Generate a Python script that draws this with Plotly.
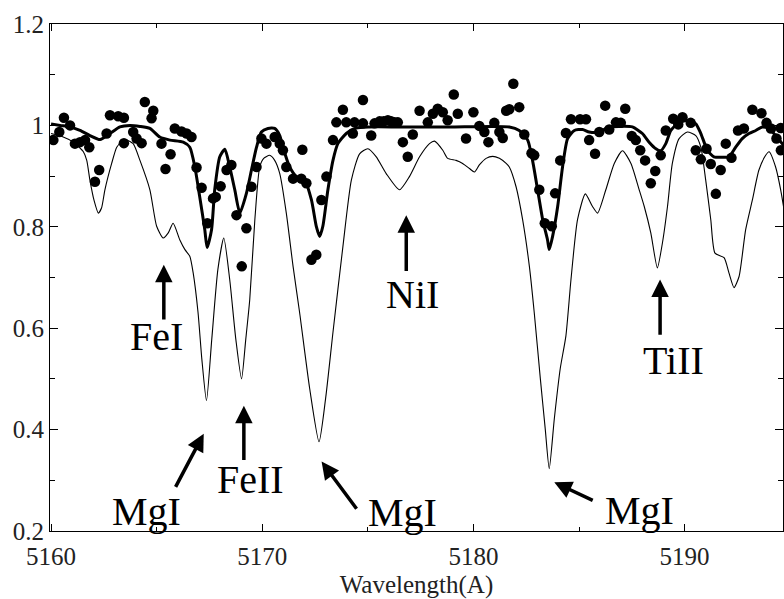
import plotly.graph_objects as go

# Observed spectrum (normalised flux)
obs_wave = [
    5160.11, 5160.39, 5160.61, 5160.90, 5161.13, 5161.37, 5161.61, 5161.81, 5162.08, 5162.28,
    5162.63, 5162.79, 5163.18, 5163.45, 5163.45, 5163.89, 5164.05, 5164.29, 5164.44, 5164.76,
    5164.84, 5165.23, 5165.42, 5165.66, 5165.86, 5166.18, 5166.42, 5166.65, 5166.89, 5167.13,
    5167.40, 5167.67, 5167.80, 5168.03, 5168.31, 5168.54, 5168.78, 5169.03, 5169.25, 5169.49,
    5169.73, 5169.96, 5170.20, 5170.59, 5170.83, 5170.98, 5171.14, 5171.46, 5171.85, 5171.90,
    5172.09, 5172.33, 5172.56, 5172.80, 5173.04, 5173.35, 5173.51, 5173.82, 5173.98, 5174.29,
    5174.37, 5174.77, 5174.77, 5175.16, 5175.32, 5175.56, 5175.75, 5175.95, 5176.10, 5176.26,
    5176.42, 5176.66, 5176.89, 5177.13, 5177.45, 5177.84, 5178.08, 5178.31, 5178.55, 5178.78,
    5179.07, 5179.26, 5179.65, 5180.00, 5180.28, 5180.52, 5180.71, 5180.99, 5181.23, 5181.39,
    5181.55, 5181.70, 5181.89, 5182.17, 5182.41, 5182.75, 5182.88, 5183.12, 5183.38, 5183.71,
    5183.87, 5184.11, 5184.38, 5184.62, 5185.05, 5185.33, 5185.48, 5185.76, 5185.96, 5186.24,
    5186.43, 5186.75, 5186.98, 5187.19, 5187.50, 5187.69, 5187.90, 5188.13, 5188.40, 5188.61,
    5188.87, 5189.11, 5189.46, 5189.70, 5189.90, 5190.29, 5190.53, 5190.77, 5191.04, 5191.24,
    5191.48, 5191.71, 5191.95, 5192.22, 5192.53, 5192.81, 5193.21, 5193.64, 5193.88, 5194.09,
    5194.35, 5194.55, 5194.56,
]
obs_flux = [
    0.971, 0.987, 1.015, 1.000, 0.964, 0.967, 0.971, 0.957, 0.889, 0.912,
    0.984, 1.020, 1.018, 1.015, 0.965, 0.987, 0.974, 0.965, 1.046, 1.014,
    1.029, 0.964, 0.914, 0.943, 0.994, 0.988, 0.984, 0.977, 0.917, 0.877,
    0.807, 0.856, 0.859, 0.880, 0.912, 0.922, 0.823, 0.722, 0.797, 0.879,
    0.918, 0.974, 0.964, 0.977, 0.964, 0.951, 0.918, 0.895, 0.895, 0.952,
    0.886, 0.735, 0.745, 0.853, 0.899, 0.971, 1.006, 1.031, 1.006, 0.984,
    1.006, 1.050, 1.004, 0.980, 1.004, 1.008, 1.008, 1.010, 1.008, 1.006,
    1.006, 0.967, 0.938, 0.982, 1.029, 1.006, 1.023, 1.033, 1.026, 1.010,
    1.061, 1.023, 0.974, 1.026, 0.999, 0.987, 0.967, 1.005, 0.987, 0.975,
    1.029, 1.032, 1.082, 1.036, 0.982, 0.945, 0.941, 0.873, 0.807, 0.801,
    0.866, 0.931, 0.985, 1.012, 1.012, 1.012, 0.971, 0.944, 0.987, 1.039,
    0.992, 1.006, 1.005, 1.033, 0.979, 0.971, 0.951, 0.931, 0.886, 0.910,
    0.941, 0.990, 1.013, 1.002, 1.016, 1.005, 0.951, 0.933, 0.954, 0.924,
    0.865, 0.912, 0.964, 0.936, 0.990, 0.994, 1.031, 1.024, 1.005, 0.994,
    0.974, 0.995, 0.951,
]

# Best-fit synthetic spectrum (thick curve)
fit_wave = [
    5160.00, 5160.43, 5160.90, 5161.37, 5161.84, 5162.32, 5162.79, 5163.26, 5163.74, 5164.21,
    5164.68, 5165.15, 5165.63, 5166.26, 5166.57, 5166.81, 5167.04, 5167.28, 5167.39, 5167.60,
    5167.75, 5167.99, 5168.23, 5168.46, 5168.70, 5168.94, 5169.25, 5169.49, 5169.73, 5169.96,
    5170.27, 5170.59, 5170.83, 5170.98, 5171.30, 5171.62, 5172.01, 5172.33, 5172.56, 5172.72,
    5172.87, 5173.11, 5173.35, 5173.58, 5173.98, 5174.45, 5175.08, 5176.50, 5178.87, 5181.70,
    5182.17, 5182.57, 5182.80, 5183.04, 5183.28, 5183.51, 5183.59, 5183.75, 5183.99, 5184.22,
    5184.46, 5184.78, 5185.17, 5185.48, 5185.96, 5186.43, 5186.90, 5187.53, 5188.00, 5188.32,
    5188.64, 5188.87, 5189.11, 5189.35, 5189.74, 5190.13, 5190.53, 5190.77, 5191.08, 5191.39,
    5191.79, 5192.10, 5192.42, 5192.73, 5193.05, 5193.37, 5193.68, 5194.00, 5194.31, 5194.62,
    5194.85,
]
fit_flux = [
    1.003, 1.000, 0.997, 0.990, 0.980, 0.972, 0.984, 0.997, 1.000, 0.998,
    0.994, 0.977, 0.971, 0.967, 0.957, 0.918, 0.859, 0.794, 0.759, 0.794,
    0.873, 0.938, 0.953, 0.918, 0.873, 0.827, 0.866, 0.912, 0.957, 0.987,
    0.994, 0.994, 0.980, 0.957, 0.918, 0.899, 0.892, 0.853, 0.801, 0.781,
    0.801, 0.873, 0.931, 0.964, 0.984, 0.995, 0.997, 0.997, 0.997, 0.997,
    0.990, 0.971, 0.931, 0.873, 0.814, 0.774, 0.755, 0.781, 0.840, 0.918,
    0.974, 0.990, 0.992, 0.987, 0.987, 0.997, 0.998, 0.997, 0.984, 0.967,
    0.954, 0.950, 0.964, 0.990, 1.006, 1.010, 1.003, 0.984, 0.951, 0.938,
    0.937, 0.938, 0.957, 0.974, 0.984, 0.990, 0.997, 0.994, 0.980, 0.964,
    0.951,
]

# Comparison synthetic spectrum (thin curve)
syn_wave = [
    5160.00, 5160.52, 5161.05, 5161.53, 5161.69, 5161.84, 5162.03, 5162.24, 5162.39, 5162.55,
    5162.87, 5163.11, 5163.34, 5163.58, 5163.89, 5164.21, 5164.68, 5165.00, 5165.31, 5165.55,
    5165.78, 5166.10, 5166.34, 5166.57, 5166.73, 5166.96, 5167.14, 5167.36, 5167.61, 5167.90,
    5168.18, 5168.46, 5168.75, 5169.02, 5169.22, 5169.41, 5169.65, 5169.88, 5170.07, 5170.35,
    5170.59, 5170.83, 5171.14, 5171.46, 5171.77, 5172.25, 5172.69, 5173.00, 5173.35, 5173.82,
    5174.22, 5174.61, 5175.00, 5175.40, 5175.87, 5176.50, 5176.97, 5177.45, 5177.92, 5178.16,
    5178.55, 5178.78, 5179.18, 5179.49, 5179.81, 5180.05, 5180.28, 5180.60, 5180.91, 5181.23,
    5181.55, 5181.70, 5182.02, 5182.33, 5182.65, 5182.88, 5183.17, 5183.40, 5183.59, 5183.83,
    5184.11, 5184.38, 5184.62, 5184.93, 5185.30, 5185.64, 5185.88, 5186.27, 5186.67, 5187.06,
    5187.46, 5187.85, 5188.09, 5188.40, 5188.71, 5188.95, 5189.19, 5189.42, 5189.74, 5190.13,
    5190.53, 5190.77, 5191.00, 5191.24, 5191.44, 5191.87, 5192.10, 5192.34, 5192.58, 5192.89,
    5193.21, 5193.52, 5193.84, 5194.00, 5194.31, 5194.55, 5194.75,
]
syn_flux = [
    0.984, 0.978, 0.967, 0.948, 0.931, 0.892, 0.853, 0.827, 0.837, 0.873,
    0.925, 0.957, 0.967, 0.971, 0.964, 0.931, 0.873, 0.801, 0.778, 0.788,
    0.807, 0.774, 0.755, 0.742, 0.709, 0.631, 0.539, 0.457, 0.578, 0.716,
    0.778, 0.696, 0.578, 0.500, 0.578, 0.657, 0.814, 0.918, 0.935, 0.941,
    0.931, 0.905, 0.827, 0.722, 0.631, 0.480, 0.376, 0.461, 0.592, 0.761,
    0.892, 0.944, 0.954, 0.938, 0.905, 0.873, 0.899, 0.938, 0.964, 0.969,
    0.951, 0.935, 0.931, 0.925, 0.915, 0.908, 0.922, 0.935, 0.939, 0.935,
    0.925, 0.918, 0.879, 0.814, 0.722, 0.631, 0.500, 0.402, 0.323, 0.421,
    0.520, 0.585, 0.696, 0.814, 0.865, 0.840, 0.827, 0.873, 0.925, 0.950,
    0.925, 0.873, 0.840, 0.788, 0.719, 0.768, 0.840, 0.925, 0.974, 0.987,
    0.980, 0.957, 0.892, 0.814, 0.748, 0.739, 0.709, 0.680, 0.702, 0.794,
    0.853, 0.912, 0.941, 0.948, 0.918, 0.873, 0.823,
]

# Line identifications: label, label position, arrow tip, arrow tail
line_ids = [
    ("FeI",  5165.01, 0.584, 5165.34, 0.725, 5165.34, 0.614),
    ("MgI",  5164.54, 0.239, 5167.23, 0.392, 5165.86, 0.284),
    ("FeII", 5169.46, 0.302, 5169.13, 0.447, 5169.13, 0.337),
    ("MgI",  5176.64, 0.237, 5172.81, 0.337, 5174.52, 0.241),
    ("NiI",  5177.12, 0.667, 5176.82, 0.823, 5176.82, 0.710),
    ("TiII", 5189.46, 0.537, 5188.84, 0.696, 5188.84, 0.584),
    ("MgI",  5187.85, 0.241, 5183.83, 0.296, 5185.72, 0.259),
]

x_range = [5159.95, 5194.66]
y_range = [0.2, 1.2]
x_ticks = [5160, 5170, 5180, 5190]
y_ticks = [0.2, 0.4, 0.6, 0.8, 1.0, 1.2]
y_tick_text = ["0.2", "0.4", "0.6", "0.8", "1", "1.2"]

serif = "Liberation Serif, Times New Roman, serif"

fig = go.Figure()
fig.add_trace(go.Scatter(
    x=syn_wave, y=syn_flux, mode="lines",
    line=dict(color="black", width=1.1, shape="spline", smoothing=0.6),
    showlegend=False, hoverinfo="skip",
))
fig.add_trace(go.Scatter(
    x=fit_wave, y=fit_flux, mode="lines",
    line=dict(color="black", width=3, shape="spline", smoothing=0.6),
    showlegend=False, hoverinfo="skip",
))
fig.add_trace(go.Scatter(
    x=obs_wave, y=obs_flux, mode="markers",
    marker=dict(color="black", size=10.5, line=dict(width=0)),
    showlegend=False,
))

annotations = []
for label, lx, ly, tx, ty, sx, sy in line_ids:
    annotations.append(dict(
        x=tx, y=ty, ax=sx, ay=sy, xref="x", yref="y", axref="x", ayref="y",
        text="", showarrow=True, arrowhead=2, arrowsize=1.0, arrowwidth=3.5,
        arrowcolor="black", standoff=0, startstandoff=0,
    ))
    annotations.append(dict(
        x=lx, y=ly, xref="x", yref="y", text=label, showarrow=False,
        xanchor="center", yanchor="middle",
        font=dict(family=serif, size=40, color="black"),
    ))

fig.update_layout(
    width=784, height=599,
    margin=dict(l=50, r=0, t=24, b=66),
    paper_bgcolor="white", plot_bgcolor="white",
    annotations=annotations,
    font=dict(family=serif, color="black"),
    xaxis=dict(
        range=x_range, tickvals=x_ticks, ticks="inside", ticklen=7, tickwidth=1,
        tickcolor="black", showline=True, linecolor="black", linewidth=1,
        mirror="ticks", showgrid=False, zeroline=False,
        tickfont=dict(family=serif, size=25, color="#222"),
        ticklabelstandoff=3,
        minor=dict(dtick=5, tick0=5160, ticks="inside", ticklen=4, tickcolor="black", showgrid=False),
        title=dict(text="Wavelength(A)", font=dict(family=serif, size=25, color="#222"), standoff=11),
    ),
    yaxis=dict(
        range=y_range, tickvals=y_ticks, ticktext=y_tick_text, ticks="inside", ticklen=8,
        tickwidth=1, tickcolor="black", showline=True, linecolor="black", linewidth=1,
        mirror="ticks", showgrid=False, zeroline=False,
        tickfont=dict(family=serif, size=25, color="#222"),
        minor=dict(dtick=0.1, tick0=0.2, ticks="inside", ticklen=5, tickcolor="black", showgrid=False),
    ),
)

fig.write_html("out.html")
